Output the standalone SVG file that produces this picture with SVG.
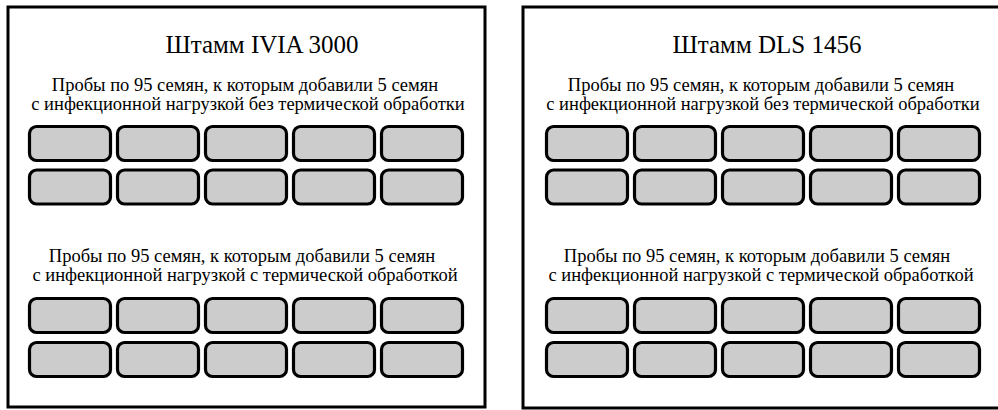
<svg xmlns="http://www.w3.org/2000/svg" width="998" height="410" viewBox="0 0 998 410">
<style>
.panel{fill:#fff;stroke:#000;stroke-width:3}
.cell{fill:#cccccc;stroke:#000;stroke-width:3.2}
.t{font-family:"Liberation Serif","Times New Roman",serif;fill:#000;text-anchor:middle}
.title{font-size:25px}
.sub{font-size:18.5px}
</style>
<defs>
<rect id="c" class="cell" width="81" height="34" rx="7" ry="7"/>
<g id="row5">
<use href="#c" x="0"/><use href="#c" x="88"/><use href="#c" x="176"/><use href="#c" x="264"/><use href="#c" x="352"/>
</g>
</defs>
<rect width="998" height="410" fill="#fff"/>
<g id="panel-ivia">
<rect class="panel" x="8" y="7" width="477" height="400"/>
<text class="t title" x="262" y="53">Штамм IVIA 3000</text>
<g id="ivia-untreated">
<text class="t sub" x="245" y="91">Пробы по 95 семян, к которым добавили 5 семян</text>
<text class="t sub" x="248" y="110">с инфекционной нагрузкой без термической обработки</text>
<use href="#row5" x="29.5" y="126.5"/>
<use href="#row5" x="29.5" y="170"/>
</g>
<g id="ivia-treated">
<text class="t sub" x="242" y="262">Пробы по 95 семян, к которым добавили 5 семян</text>
<text class="t sub" x="245" y="281">с инфекционной нагрузкой с термической обработкой</text>
<use href="#row5" x="29.5" y="298.5"/>
<use href="#row5" x="29.5" y="342.5"/>
</g>
</g>
<g id="panel-dls">
<rect class="panel" x="523" y="7" width="480" height="401"/>
<text class="t title" x="767" y="53">Штамм DLS 1456</text>
<g id="dls-untreated">
<text class="t sub" x="761" y="91">Пробы по 95 семян, к которым добавили 5 семян</text>
<text class="t sub" x="763" y="110">с инфекционной нагрузкой без термической обработки</text>
<use href="#row5" x="546.5" y="126.5"/>
<use href="#row5" x="546.5" y="170"/>
</g>
<g id="dls-treated">
<text class="t sub" x="757" y="262">Пробы по 95 семян, к которым добавили 5 семян</text>
<text class="t sub" x="761" y="281">с инфекционной нагрузкой с термической обработкой</text>
<use href="#row5" x="546.5" y="298.5"/>
<use href="#row5" x="546.5" y="342.5"/>
</g>
</g>
<g id="connectors"/>
</svg>
